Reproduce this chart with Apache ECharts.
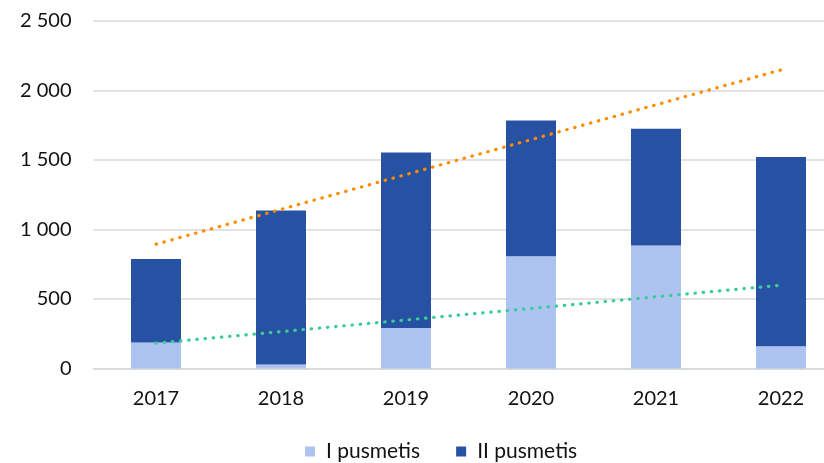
<!DOCTYPE html>
<html>
<head>
<meta charset="utf-8">
<script src="https://cdn.jsdelivr.net/npm/echarts@6/dist/echarts.min.js"></script>
<style>
html,body{margin:0;padding:0;background:#fff;}
#chart{width:824px;height:463px;}
</style>
</head>
<body>
<div id="chart"></div>
<script>
var categories = ['2017', '2018', '2019', '2020', '2021', '2022'];
var firstHalf = [187, 29, 292, 808, 885, 160];
var secondHalf = [601, 1108, 1262, 976, 839, 1362];
var orangeTrend = [894, '-', '-', '-', '-', 2148];
var greenTrend = [182, '-', '-', '-', '-', 599];
var seriesNames = ['I pusmetis', 'II pusmetis'];
var yTicks = { min: 0, max: 2500, interval: 500 };

var FONT = 'Lato';
var chart = echarts.init(document.getElementById('chart'), null, { renderer: 'canvas' });

function fmt(v) {
  return String(v).replace(/\B(?=(\d{3})+(?!\d))/g, ' ');
}

var dotStyle = function (color) {
  return { color: color, width: 3.2, type: [0.5, 7.7], cap: 'round' };
};

chart.setOption({
  animation: false,
  backgroundColor: '#ffffff',
  grid: { left: 93.5, top: 21, width: 750, height: 347.5, containLabel: false, outerBoundsMode: 'none' },
  legend: {
    data: seriesNames,
    left: 305,
    top: 441,
    padding: 0,
    itemWidth: 10,
    itemHeight: 10,
    itemGap: 36,
    icon: 'rect',
    textStyle: { fontFamily: FONT, fontSize: 21, color: '#111111', padding: [0, 0, 0, 6] }
  },
  xAxis: {
    type: 'category',
    data: categories,
    boundaryGap: true,
    axisLine: { show: true, lineStyle: { color: '#d9d9d9', width: 1.5 } },
    axisTick: { show: false },
    axisLabel: { fontFamily: FONT, fontSize: 20, color: '#111111', margin: 20 }
  },
  yAxis: {
    type: 'value',
    min: yTicks.min,
    max: yTicks.max,
    interval: yTicks.interval,
    axisLine: { show: false },
    axisTick: { show: false },
    splitLine: { lineStyle: { color: '#d9d9d9', width: 1.5 } },
    axisLabel: { fontFamily: FONT, fontSize: 20, color: '#111111', margin: 22, formatter: fmt }
  },
  series: [
    {
      name: seriesNames[0], type: 'bar', stack: 'total', barWidth: '40%',
      itemStyle: { color: '#adc3f0' }, data: firstHalf
    },
    {
      name: seriesNames[1], type: 'bar', stack: 'total', barWidth: '40%',
      itemStyle: { color: '#2751a3' }, data: secondHalf
    },
    {
      name: 'trend total', type: 'line', data: orangeTrend, connectNulls: true,
      showSymbol: false, symbol: 'none', silent: true, z: 5,
      lineStyle: dotStyle('#ff8c00')
    },
    {
      name: 'trend I', type: 'line', data: greenTrend, connectNulls: true,
      showSymbol: false, symbol: 'none', silent: true, z: 5,
      lineStyle: dotStyle('#3ccb9b')
    }
  ]
});
</script>
</body>
</html>
